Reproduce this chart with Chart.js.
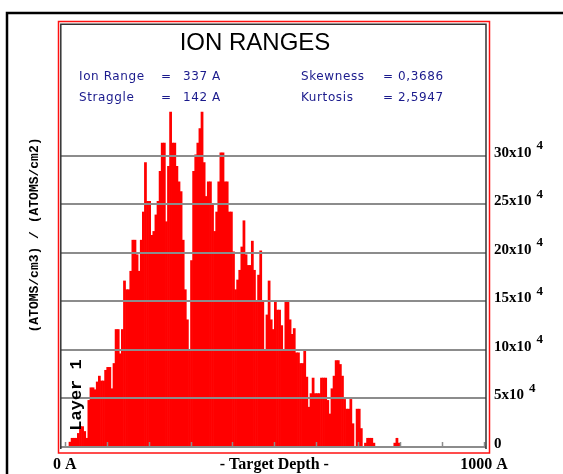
<!DOCTYPE html>
<html>
<head>
<meta charset="utf-8">
<script src="https://cdn.jsdelivr.net/npm/chart.js@4.4.1/dist/chart.umd.min.js"></script>
<style>
  html, body { margin: 0; padding: 0; background: #fff; }
</style>
</head>
<body>
<canvas id="chartIon" width="563" height="474"></canvas>
<script>
// depth bins of 5 A, 0..1000 A
var binWidth = 5;
var depthTicks = [0, 500, 1000];
var depthLabels = ['0 A', '- Target Depth -', '1000 A'];
var yTicks = [0, 5, 10, 15, 20, 25, 30];
var minorTicks = [0, 100, 200, 300, 400, 500, 600, 700, 800, 900, 1000];

// (ATOMS/cm3)/(ATOMS/cm2) in units of 10^4
var ionCounts = [
  0, 0, 0.5, 0.9, 0.9, 0.9, 1.4, 2.1, 2.1, 1.6,
  0.9, 4.8, 6.1, 6.1, 5.9, 6.7, 7.3, 6.8, 6.8, 7.9,
  8.2, 8.2, 6.0, 8.6, 12.1, 12.1, 9.6, 12.1, 17.1, 16.2,
  16.2, 18.1, 21.3, 21.3, 19.8, 18.1, 21.3, 24.2, 29.3, 25.3,
  25.3, 21.8, 22.2, 23.9, 25.3, 28.4, 31.3, 31.3, 23.2, 28.9,
  34.5, 31.3, 31.3, 28.9, 27.3, 26.3, 21.3, 16.2, 13.1, 10.0,
  19.2, 28.4, 30.1, 31.3, 32.8, 34.5, 29.3, 25.8, 27.3, 27.3,
  24.9, 22.2, 24.2, 27.3, 30.3, 30.3, 27.3, 27.3, 24.2, 24.2,
  20.1, 16.2, 17.2, 18.2, 20.6, 23.3, 19.8, 18.7, 18.7, 21.2,
  18.2, 15.1, 17.7, 20.2, 15.1, 10.0, 13.6, 17.1, 13.1, 12.1,
  15.1, 14.1, 14.1, 12.5, 10.0, 15.1, 15.1, 13.1, 11.6, 12.2,
  9.7, 9.7, 8.6, 8.6, 10.0, 7.2, 4.1, 5.5, 7.1, 5.5,
  5.5, 5.5, 7.1, 7.1, 7.1, 4.8, 3.4, 6.0, 7.3, 8.9,
  8.9, 8.5, 7.3, 4.9, 3.9, 3.9, 4.9, 2.4, 0, 3.9,
  3.9, 1.9, 0, 0.4, 0.9, 0.9, 0.9, 0.4, 0, 0,
  0, 0, 0, 0, 0, 0, 0, 0.4, 0.9, 0.4,
  0, 0, 0, 0, 0, 0, 0, 0, 0, 0,
  0, 0, 0, 0, 0, 0, 0, 0, 0, 0,
  0, 0, 0, 0, 0, 0, 0, 0, 0, 0,
  0, 0, 0, 0, 0, 0, 0, 0, 0, 0
];

var statsLeft = [['Ion Range', '=', '337 A'], ['Straggle', '=', '142 A']];
var statsRight = [['Skewness', '= 0,3686'], ['Kurtosis', '= 2,5947']];

var points = ionCounts.map(function (v, i) {
  return { x: i * binWidth + binWidth / 2, y: v };
});

var decor = {
  id: 'decor',
  beforeDraw: function (chart) {
    var c = chart.ctx;
    c.save();
    c.fillStyle = '#fff';
    c.fillRect(0, 0, chart.width, chart.height);
    c.strokeStyle = '#000';
    c.lineWidth = 2.5;
    c.strokeRect(7, 13, 620, 520);
    c.restore();
  },
  afterDatasetsDraw: function (chart) {
    var c = chart.ctx, xs = chart.scales.x, a = chart.chartArea;
    c.save();
    c.strokeStyle = '#8c8c8c';
    c.lineWidth = 1.5;
    minorTicks.forEach(function (t) {
      var px = Math.round(xs.getPixelForValue(t)) + 0.5;
      c.beginPath();
      c.moveTo(px, a.bottom);
      c.lineTo(px, a.bottom - 5);
      c.stroke();
    });
    c.restore();
  },
  afterDraw: function (chart) {
    var c = chart.ctx, ys = chart.scales.y;
    c.save();
    // frames
    c.strokeStyle = '#ff1010';
    c.lineWidth = 1.5;
    c.strokeRect(58.5, 21.5, 431, 431.5);
    c.strokeStyle = '#333';
    c.lineWidth = 1.5;
    c.beginPath();
    c.moveTo(60.8, 449); c.lineTo(60.8, 24.2);
    c.lineTo(486, 24.2); c.lineTo(486, 449);
    c.stroke();

    // superscript exponents on the right axis
    c.fillStyle = '#000';
    c.textBaseline = 'middle';
    c.textAlign = 'left';
    ys.ticks.forEach(function (t) {
      if (t.value === 0) return;
      c.font = 'bold 15px "Liberation Serif"';
      var w = c.measureText(t.value + 'x10').width;
      var py = ys.getPixelForValue(t.value);
      c.font = 'bold 13px "Liberation Serif"';
      c.fillText('4', 494 + w + 5, py - 10);
    });

    // title
    c.fillStyle = '#000';
    c.textAlign = 'center';
    c.font = '24px "Liberation Sans"';
    c.fillText('ION RANGES', 255, 43);

    // stats
    c.fillStyle = '#1a1a8c';
    c.textAlign = 'left';
    c.font = '12px "DejaVu Sans"';
    c.letterSpacing = '0.6px';
    var rowsY = [77, 98];
    statsLeft.forEach(function (r, k) {
      c.fillText(r[0], 79, rowsY[k]);
      c.fillText(r[1], 161, rowsY[k]);
      c.fillText(r[2], 183, rowsY[k]);
    });
    statsRight.forEach(function (r, k) {
      c.fillText(r[0], 301, rowsY[k]);
      c.fillText(r[1], 383, rowsY[k]);
    });
    c.letterSpacing = '0px';

    // y title
    c.fillStyle = '#000';
    c.save();
    c.translate(35, 235);
    c.rotate(-Math.PI / 2);
    c.textAlign = 'center';
    c.font = 'bold 13px "Liberation Mono"';
    c.fillText('(ATOMS/cm3) / (ATOMS/cm2)', 0, 0);
    c.restore();

    // layer label
    c.save();
    c.translate(77, 395);
    c.rotate(-Math.PI / 2);
    c.textAlign = 'center';
    c.font = 'bold 17px "Liberation Mono"';
    c.fillText('Layer 1', 0, 0);
    c.restore();

    c.restore();
  }
};

var ctx = document.getElementById('chartIon').getContext('2d');
var chartIon = new Chart(ctx, {
  type: 'bar',
  data: {
    datasets: [{
      data: points,
      backgroundColor: '#ff0000',
      borderWidth: 0,
      barPercentage: 1,
      categoryPercentage: 1
    }]
  },
  options: {
    responsive: false,
    animation: false,
    layout: { padding: { left: 61, top: 24, right: 0, bottom: 0 } },
    plugins: { legend: { display: false }, tooltip: { enabled: false } },
    scales: {
      x: {
        type: 'linear',
        offset: false,
        min: -9,
        max: 1005,
        grid: { display: false, offset: false },
        border: { display: false },
        afterBuildTicks: function (s) {
          s.ticks = depthTicks.map(function (v) { return { value: v }; });
        },
        afterFit: function (s) { s.height = 27; },
        ticks: {
          autoSkip: false,
          maxRotation: 0,
          padding: 0,
          color: '#000',
          font: { family: 'Liberation Serif', size: 16, weight: 'bold' },
          callback: function (v, i) { return depthLabels[i]; }
        }
      },
      y: {
        position: 'right',
        min: 0,
        max: 43.56,
        border: { display: false },
        grid: { color: '#8c8c8c', lineWidth: 2, drawTicks: false, z: 1 },
        afterBuildTicks: function (s) {
          s.ticks = yTicks.map(function (v) { return { value: v }; });
        },
        afterFit: function (s) { s.width = 77; },
        ticks: {
          padding: 8,
          labelOffset: -3,
          color: '#000',
          font: { family: 'Liberation Serif', size: 15, weight: 'bold' },
          callback: function (v) { return v === 0 ? '0' : v + 'x10'; }
        }
      }
    }
  },
  plugins: [decor]
});
</script>
</body>
</html>
